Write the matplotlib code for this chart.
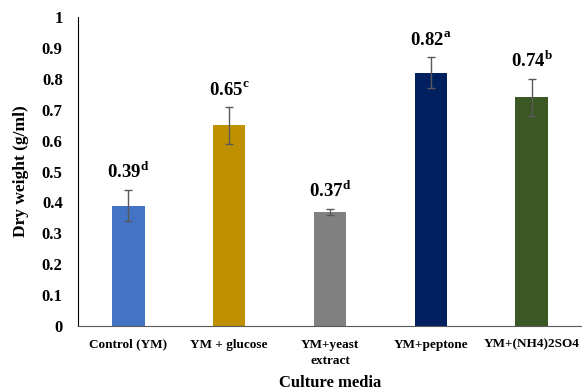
import matplotlib.pyplot as plt
import numpy as np

plt.rcParams['font.family'] = ['Liberation Serif', 'DejaVu Serif']
plt.rcParams['mathtext.fontset'] = 'custom'
plt.rcParams['mathtext.rm'] = 'Liberation Serif'
plt.rcParams['mathtext.bf'] = 'Liberation Serif:bold'

# data
media = ['Control (YM)', 'YM + glucose', 'YM+yeast\nextract', 'YM+peptone', 'YM+(NH4)2SO4']
dry_weight = [0.39, 0.65, 0.37, 0.82, 0.74]
errors = [0.05, 0.06, 0.01, 0.05, 0.06]
letters = ['d', 'c', 'd', 'a', 'b']
colors = ['#4472C4', '#BF9000', '#808080', '#002060', '#3A5724']

fig = plt.figure(figsize=(5.82, 3.92), dpi=100)
ax = fig.add_axes([0.134, 0.168, 0.866, 0.789])

x = np.arange(len(media))
ax.bar(x, dry_weight, width=0.32, color=colors, zorder=2)
ax.errorbar(x, dry_weight, yerr=errors, fmt='none', ecolor='#595959',
            elinewidth=1, capsize=3, capthick=1, zorder=3)

# value labels with significance letters
for xi, v, e, l in zip(x, dry_weight, errors, letters):
    ax.text(xi, v + e + 0.025, f'{v:.2f}' + r'$^{\mathbf{' + l + '}}$',
            ha='center', va='bottom', fontsize=13.5, fontweight='bold')

ax.set_xlim(-0.5, 4.5)
ax.set_ylim(0, 1)
ax.set_yticks(np.arange(0, 1.01, 0.1))
ax.set_yticklabels(['0'] + [f'{t:.1f}' for t in np.arange(0.1, 0.95, 0.1)] + ['1'])
ax.set_xticks(x)
ax.set_xticklabels(media, linespacing=1.45)
ax.tick_params(axis='y', length=0, pad=11, labelsize=12)
ax.tick_params(axis='x', length=0, pad=9, labelsize=9.5)
for lab in ax.get_xticklabels() + ax.get_yticklabels():
    lab.set_fontweight('bold')

ax.spines['top'].set_visible(False)
ax.spines['right'].set_visible(False)
ax.spines['left'].set_color('black')
ax.spines['bottom'].set_color('#595959')

ax.set_ylabel('Dry weight (g/ml)', fontsize=12.5, fontweight='bold', labelpad=9)
ax.set_xlabel('Culture media', fontsize=12, fontweight='bold', labelpad=6)

plt.savefig('out.png', dpi=100)
